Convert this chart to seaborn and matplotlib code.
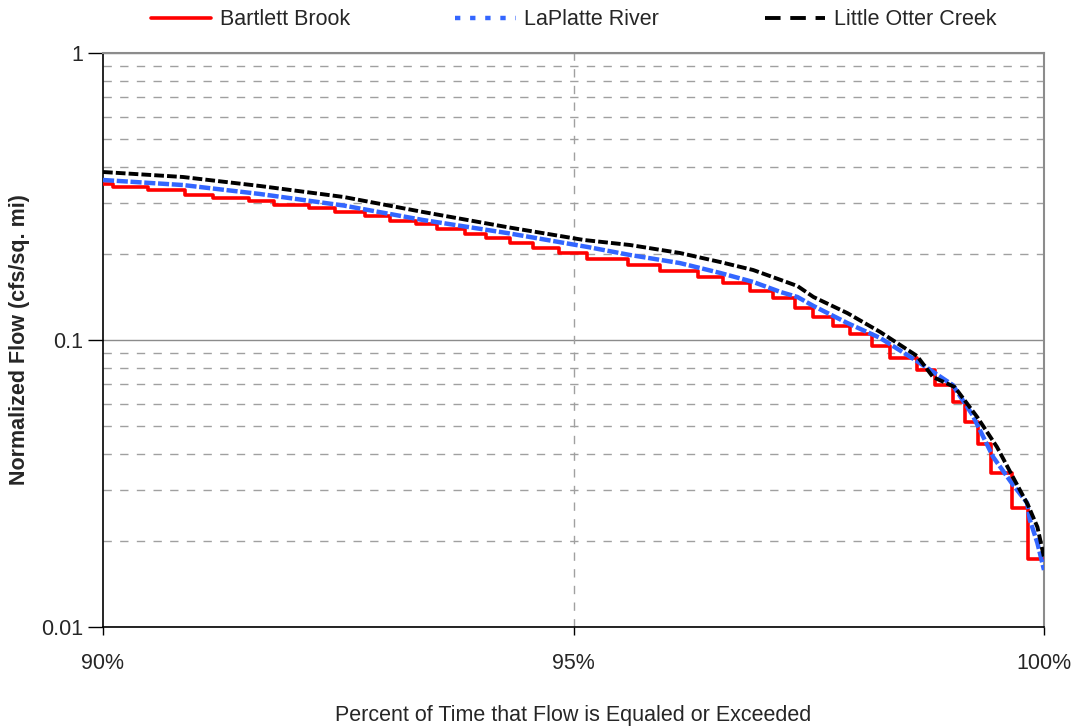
import numpy as np
import pandas as pd
import matplotlib
matplotlib.use("Agg")
import matplotlib.pyplot as plt
import seaborn as sns
from matplotlib.ticker import FixedLocator, FuncFormatter, NullFormatter
from matplotlib.lines import Line2D

# DATA
# Bartlett Brook - step curve: start of each step (%) and flow level
bartlett_pct = [90.00, 90.11, 90.48, 90.87, 91.17, 91.55, 91.82, 92.19, 92.47,
                92.78, 93.05, 93.33, 93.55, 93.85, 94.07, 94.32, 94.57, 94.85,
                95.14, 95.58, 95.92, 96.32, 96.59, 96.88, 97.12, 97.35, 97.55,
                97.76, 97.94, 98.17, 98.36, 98.65, 98.84, 99.03, 99.16, 99.30,
                99.44, 99.66, 99.83, 100.00]
bartlett_flow = [0.3496, 0.3413, 0.3332, 0.3200, 0.3124, 0.3050, 0.2953, 0.2884,
                 0.2793, 0.2705, 0.2598, 0.2536, 0.2436, 0.2341, 0.2267, 0.2178,
                 0.2092, 0.2010, 0.1915, 0.1825, 0.1739, 0.1658, 0.1580, 0.1482,
                 0.1400, 0.1293, 0.1202, 0.1119, 0.1050, 0.0953, 0.0866, 0.0786,
                 0.0697, 0.0608, 0.0518, 0.0434, 0.0344, 0.0260, 0.0173, 0.0173]

# LaPlatte River
laplatte_pct = [90.00, 90.85, 91.67, 92.56, 93.40, 94.29, 95.15, 95.60, 96.13,
                96.56, 96.91, 97.20, 97.38, 97.55, 97.91, 98.26, 98.65, 99.03,
                99.24, 99.46, 99.67, 99.82, 99.85, 99.93, 100.00]
laplatte_flow = [0.3610, 0.3467, 0.3226, 0.2940, 0.2619, 0.2360, 0.2109, 0.1978,
                 0.1854, 0.1712, 0.1593, 0.1470, 0.1412, 0.1314, 0.1146, 0.1016,
                 0.0844, 0.0697, 0.0548, 0.0391, 0.0313, 0.0271, 0.0236, 0.0196,
                 0.0158]

# Little Otter Creek
otter_pct = [90.00, 90.85, 91.67, 92.56, 93.40, 94.29, 95.11, 95.60, 96.13,
             96.56, 96.91, 97.20, 97.38, 97.55, 97.91, 98.26, 98.65, 98.82,
             99.05, 99.29, 99.50, 99.67, 99.83, 99.93, 100.00]
otter_flow = [0.3849, 0.3698, 0.3440, 0.3149, 0.2793, 0.2475, 0.2231, 0.2143,
              0.2010, 0.1869, 0.1753, 0.1620, 0.1542, 0.1412, 0.1241, 0.1066,
              0.0880, 0.0743, 0.0686, 0.0539, 0.0424, 0.0333, 0.0266, 0.0223,
              0.0175]

series_names = ["Bartlett Brook", "LaPlatte River", "Little Otter Creek"]
x_ticks = [90, 95, 100]
y_ticks = [0.01, 0.1, 1]

df_b = pd.DataFrame({"pct": bartlett_pct, "flow": bartlett_flow})
df_l = pd.DataFrame({"pct": laplatte_pct, "flow": laplatte_flow})
df_o = pd.DataFrame({"pct": otter_pct, "flow": otter_flow})

sns.set_style("white")
plt.rcParams["font.family"] = ["Liberation Sans", "DejaVu Sans"]

fig = plt.figure(figsize=(10.75, 7.27), dpi=100)
ax = fig.add_axes([103 / 1075, 1 - 627 / 727, 941 / 1075, 574 / 727])

ax.set_yscale("log")
ax.set_xlim(90, 100)
ax.set_ylim(0.01, 1)

# GRID
for v in y_ticks:
    ax.axhline(v, color="#8c8c8c", lw=1.0, zorder=0)
for dec in [0.01, 0.1]:
    for m in range(2, 10):
        ax.axhline(dec * m, color="#a0a0a0", lw=1.0, ls=(0, (6, 6)), zorder=0)
ax.axvline(95, color="#a0a0a0", lw=1.0, ls=(0, (6, 6)), zorder=0)

# LINES
sns.lineplot(data=df_b, x="pct", y="flow", ax=ax, color="#ff0000", lw=2.6,
             drawstyle="steps-post", estimator=None, sort=False, zorder=3)
sns.lineplot(data=df_l, x="pct", y="flow", ax=ax, color="#3366ff", lw=3.2,
             estimator=None, sort=False, zorder=4,
             linestyle=(0, (2.5, 0.6)))
sns.lineplot(data=df_o, x="pct", y="flow", ax=ax, color="#000000", lw=2.8,
             estimator=None, sort=False, zorder=5,
             linestyle=(0, (2.5, 0.8)))

# AXES
ax.yaxis.set_major_locator(FixedLocator(y_ticks))
ax.yaxis.set_major_formatter(FuncFormatter(lambda v, p: f"{v:g}"))
ax.yaxis.set_minor_formatter(NullFormatter())
ax.tick_params(axis="y", which="minor", length=0)
ax.set_xticks(x_ticks)
ax.set_xticklabels([f"{t}%" for t in x_ticks])
ax.tick_params(axis="y", which="major", direction="out", length=11, width=1,
               color="black", labelsize=15.5, pad=3, left=True)
ax.tick_params(axis="x", which="major", direction="out", length=6, width=1,
               color="black", labelsize=15.5, pad=13, bottom=True)

for s in ["left", "bottom"]:
    ax.spines[s].set_color("black")
    ax.spines[s].set_linewidth(1.2)
for s in ["top", "right"]:
    ax.spines[s].set_color("#8c8c8c")
    ax.spines[s].set_linewidth(1.5)

ax.set_xlabel("Percent of Time that Flow is Equaled or Exceeded", fontsize=15.5,
              labelpad=22)
ax.set_ylabel("Normalized Flow (cfs/sq. mi)", fontsize=15.5, fontweight="bold",
              labelpad=8)

# LEGEND
handles = [
    Line2D([], [], color="#ff0000", lw=2.6),
    Line2D([], [], color="#3366ff", lw=3.2, ls=(0, (1.2, 2.2))),
    Line2D([], [], color="#000000", lw=2.8, ls=(0, (4, 2.5))),
]
ax.legend(handles, series_names, loc="lower center", bbox_to_anchor=(0.5, 1.0),
          ncol=3, frameon=False, fontsize=15.5, handlelength=2.8,
          handletextpad=0.4, columnspacing=4.9, borderaxespad=0.65)

plt.savefig("out.png", dpi=100)
